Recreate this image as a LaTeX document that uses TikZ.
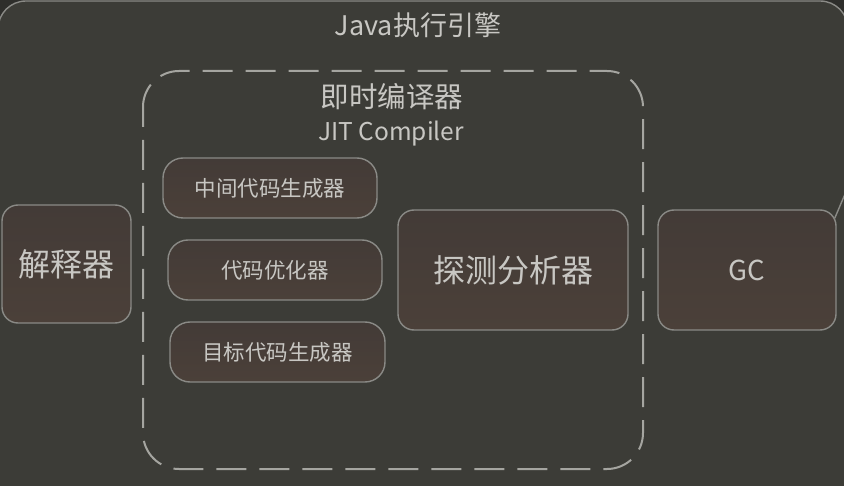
\documentclass[tikz,border=0pt]{standalone}
\usepackage{fontspec}
\setmainfont{Noto Sans CJK SC}
\definecolor{bgc}{RGB}{60,60,55}
\definecolor{outc}{RGB}{46,46,43}
\definecolor{strokec}{RGB}{138,138,134}
\definecolor{dashc}{RGB}{165,165,160}
\definecolor{txtc}{RGB}{200,199,195}
\definecolor{boxtop}{RGB}{67,59,55}
\definecolor{boxbot}{RGB}{75,64,57}
\tikzset{
  fbox/.style={draw=strokec, line width=1.4pt, top color=boxtop, bottom color=boxbot,
    text=txtc, inner sep=0pt, anchor=center},
  bigbox/.style={fbox, rounded corners=16pt, font=\fontsize{32}{35}\selectfont},
  smallbox/.style={fbox, rounded corners=20pt, minimum width=214pt, minimum height=60pt,
    font=\fontsize{21.5}{25}\selectfont},
  lbl/.style={text=txtc, inner sep=0pt, anchor=center},
  edge/.style={draw=strokec, line width=1.4pt}
}
\begin{document}
\begin{tikzpicture}[x=1pt,y=-1pt]
\useasboundingbox (0,0) rectangle (844,486);
\clip (0,0) rectangle (844,486);
\fill[outc] (0,0) rectangle (844,486);
\draw[draw=strokec, line width=1.4pt, fill=bgc, rounded corners=28pt] (-2,1) rectangle (848,560);
\node[lbl, font=\fontsize{27}{30}\selectfont] (title) at (418,25) {Java执行引擎};
\draw[draw=dashc, line width=2pt, dash pattern=on 30pt off 13pt, dash phase=10pt, rounded corners=36pt] (143,71) rectangle (643,469);
\node[lbl, font=\fontsize{28.5}{31}\selectfont] (jit) at (392,97) {即时编译器};
\node[lbl, font=\fontsize{24.5}{28}\selectfont] (jiten) at (391,134) {JIT Compiler};
\node[bigbox, minimum width=129pt, minimum height=118pt] (interp) at (66.5,264) {解释器};
\node[smallbox] (mid) at (270,188) {中间代码生成器};
\node[smallbox] (opt) at (275,270) {代码优化器};
\node[smallbox, minimum width=215pt] (target) at (277.5,352) {目标代码生成器};
\node[bigbox, minimum width=230pt, minimum height=120pt] (probe) at (513,270) {探测分析器};
\node[bigbox, minimum width=178pt, minimum height=120pt, font=\fontsize{27.5}{30}\selectfont] (gc) at (747,270) {GC};
\coordinate (gcend) at (851,180);
\draw[edge] ([xshift=-2pt,yshift=-9pt]gc.north east) -- (gcend);
\end{tikzpicture}
\end{document}
